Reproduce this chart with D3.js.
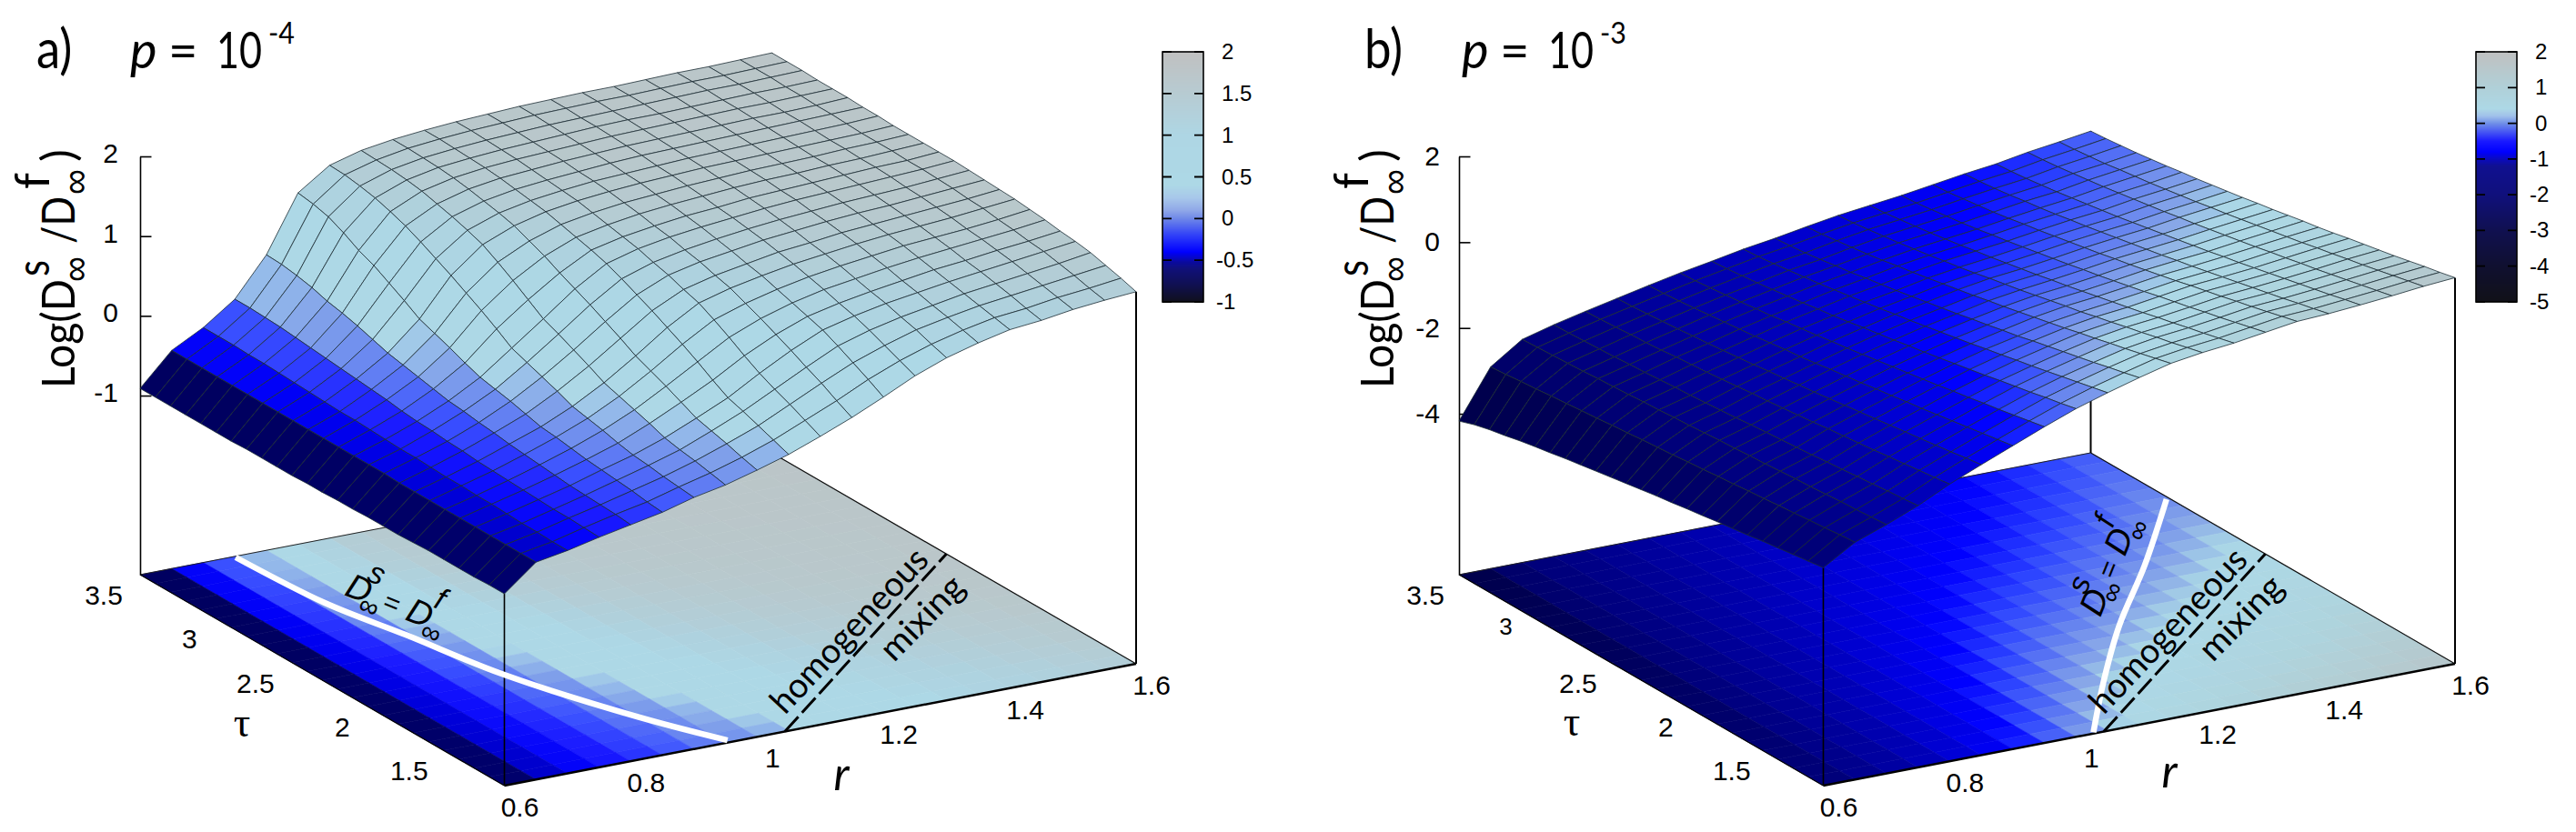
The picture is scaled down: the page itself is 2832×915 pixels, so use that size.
<!DOCTYPE html>
<html><head><meta charset="utf-8">
<script src="https://cdn.jsdelivr.net/npm/d3@7"></script>
<style>html,body{margin:0;padding:0;background:#fff}svg{display:block}text{fill:#000}</style>
</head><body><svg id="c" width="2832" height="915"></svg>
<script>
const rValues = [0.6,0.65,0.7,0.75,0.8,0.85,0.9,0.95,1,1.05,1.1,1.15,1.2,1.25,1.3,1.35,1.4,1.45,1.5,1.55,1.6];
const tauValues = [3.5,3.4,3.3,3.2,3.1,3,2.9,2.8,2.7,2.6,2.5,2.4,2.3,2.2,2.1,2,1.9,1.8,1.7,1.6,1.5,1.4,1.3,1.2,1.1];

// panel a: one row per tau, one value per r
const zA = [
[-.91,-.51,-.30,-.02,.46,1.16,1.43,1.54,1.60,1.64,1.67,1.69,1.71,1.72,1.73,1.73,1.74,1.75,1.75,1.76,1.77],
[-.91,-.51,-.30,-.02,.45,1.13,1.42,1.53,1.60,1.64,1.67,1.69,1.71,1.72,1.73,1.73,1.74,1.75,1.75,1.76,1.77],
[-.91,-.51,-.30,-.03,.42,1.08,1.39,1.52,1.59,1.63,1.66,1.68,1.70,1.71,1.72,1.73,1.74,1.75,1.75,1.76,1.77],
[-.91,-.51,-.31,-.04,.38,.99,1.35,1.50,1.58,1.62,1.65,1.67,1.69,1.71,1.72,1.72,1.73,1.74,1.75,1.75,1.76],
[-.91,-.51,-.31,-.06,.32,.88,1.29,1.47,1.56,1.61,1.64,1.66,1.68,1.70,1.71,1.72,1.73,1.74,1.74,1.75,1.76],
[-.91,-.51,-.32,-.08,.28,.80,1.22,1.42,1.53,1.59,1.62,1.65,1.67,1.69,1.70,1.71,1.72,1.73,1.73,1.74,1.76],
[-.91,-.51,-.33,-.10,.23,.69,1.13,1.37,1.49,1.56,1.60,1.63,1.66,1.68,1.69,1.70,1.71,1.72,1.73,1.74,1.75],
[-.90,-.51,-.34,-.12,.17,.58,1.03,1.31,1.45,1.53,1.58,1.62,1.64,1.66,1.68,1.69,1.70,1.71,1.72,1.73,1.75],
[-.90,-.51,-.35,-.14,.11,.46,.93,1.24,1.40,1.50,1.56,1.60,1.63,1.65,1.67,1.68,1.69,1.70,1.71,1.72,1.74],
[-.90,-.51,-.36,-.16,.07,.39,.82,1.13,1.32,1.45,1.52,1.57,1.60,1.63,1.65,1.67,1.68,1.69,1.71,1.72,1.74],
[-.90,-.51,-.36,-.18,.03,.32,.71,1.01,1.24,1.40,1.48,1.54,1.58,1.61,1.64,1.66,1.67,1.69,1.70,1.72,1.74],
[-.89,-.51,-.37,-.21,-.01,.24,.59,.88,1.14,1.35,1.44,1.50,1.55,1.58,1.62,1.64,1.66,1.68,1.70,1.71,1.74],
[-.89,-.51,-.38,-.23,-.05,.17,.46,.75,1.05,1.29,1.40,1.47,1.52,1.56,1.60,1.63,1.65,1.67,1.69,1.71,1.74],
[-.88,-.51,-.39,-.24,-.07,.13,.39,.67,.96,1.21,1.34,1.42,1.48,1.53,1.57,1.60,1.63,1.65,1.67,1.70,1.73],
[-.88,-.51,-.39,-.26,-.10,.09,.32,.58,.86,1.12,1.29,1.38,1.44,1.50,1.54,1.58,1.61,1.63,1.66,1.69,1.72],
[-.87,-.52,-.40,-.27,-.12,.04,.25,.49,.76,1.03,1.22,1.32,1.39,1.46,1.50,1.55,1.58,1.61,1.64,1.67,1.71],
[-.87,-.52,-.41,-.29,-.15,-.01,.17,.39,.65,.93,1.16,1.27,1.35,1.42,1.47,1.52,1.56,1.59,1.62,1.66,1.70],
[-.87,-.52,-.41,-.30,-.17,-.03,.13,.33,.57,.83,1.06,1.19,1.29,1.37,1.43,1.48,1.53,1.56,1.59,1.63,1.68],
[-.86,-.52,-.42,-.31,-.19,-.06,.09,.27,.49,.72,.95,1.11,1.23,1.32,1.38,1.44,1.49,1.53,1.57,1.61,1.66],
[-.85,-.52,-.42,-.32,-.21,-.09,.04,.21,.40,.60,.83,1.02,1.17,1.26,1.33,1.39,1.45,1.49,1.54,1.58,1.63],
[-.85,-.52,-.43,-.33,-.23,-.11,0,.14,.31,.49,.72,.93,1.11,1.21,1.29,1.35,1.41,1.46,1.51,1.56,1.61],
[-.85,-.52,-.44,-.34,-.24,-.13,-.02,.10,.26,.43,.63,.83,1.02,1.14,1.23,1.30,1.37,1.42,1.47,1.52,1.58],
[-.85,-.52,-.44,-.34,-.25,-.15,-.05,.07,.21,.36,.55,.74,.92,1.06,1.18,1.26,1.33,1.38,1.43,1.48,1.53],
[-.84,-.52,-.45,-.35,-.26,-.18,-.07,.03,.15,.29,.46,.63,.82,.98,1.11,1.21,1.29,1.33,1.39,1.43,1.48],
[-.84,-.52,-.45,-.36,-.28,-.20,-.09,-.01,.10,.22,.37,.53,.71,.90,1.05,1.16,1.25,1.29,1.35,1.39,1.42]
];

// panel b: one column per r, one value per tau
const zBbyR = [
[-4.17,-4.05,-3.96,-3.89,-3.81,-3.74,-3.68,-3.61,-3.55,-3.49,-3.43,-3.37,-3.31,-3.25,-3.20,-3.14,-3.09,-3.03,-2.98,-2.93,-2.87,-2.82,-2.77,-2.72,-2.67],
[-3.05,-3.02,-2.98,-2.95,-2.91,-2.88,-2.84,-2.81,-2.77,-2.74,-2.70,-2.67,-2.64,-2.60,-2.57,-2.53,-2.50,-2.46,-2.43,-2.39,-2.36,-2.32,-2.29,-2.25,-2.22],
[-2.55,-2.53,-2.51,-2.49,-2.47,-2.44,-2.42,-2.40,-2.37,-2.35,-2.32,-2.30,-2.27,-2.24,-2.22,-2.19,-2.17,-2.14,-2.11,-2.09,-2.06,-2.03,-2.01,-1.98,-1.95],
[-2.35,-2.34,-2.32,-2.30,-2.28,-2.25,-2.23,-2.20,-2.17,-2.15,-2.12,-2.09,-2.06,-2.02,-1.99,-1.96,-1.93,-1.90,-1.86,-1.83,-1.79,-1.76,-1.72,-1.69,-1.65],
[-2.18,-2.16,-2.14,-2.11,-2.09,-2.06,-2.02,-1.99,-1.96,-1.92,-1.88,-1.84,-1.81,-1.77,-1.73,-1.69,-1.64,-1.60,-1.56,-1.52,-1.47,-1.43,-1.38,-1.34,-1.29],
[-2.02,-2.00,-1.97,-1.94,-1.91,-1.87,-1.84,-1.80,-1.76,-1.72,-1.67,-1.63,-1.58,-1.54,-1.49,-1.44,-1.39,-1.34,-1.29,-1.24,-1.19,-1.14,-1.09,-1.03,-.98],
[-1.86,-1.84,-1.81,-1.77,-1.73,-1.69,-1.65,-1.61,-1.56,-1.51,-1.47,-1.42,-1.36,-1.31,-1.26,-1.20,-1.15,-1.09,-1.04,-.98,-.92,-.86,-.80,-.74,-.68],
[-1.71,-1.69,-1.65,-1.61,-1.57,-1.52,-1.48,-1.42,-1.37,-1.32,-1.26,-1.21,-1.15,-1.09,-1.03,-.97,-.91,-.85,-.78,-.72,-.65,-.59,-.52,-.45,-.38],
[-1.58,-1.55,-1.51,-1.47,-1.42,-1.37,-1.32,-1.26,-1.21,-1.15,-1.08,-1.02,-.96,-.89,-.83,-.76,-.69,-.62,-.55,-.47,-.40,-.33,-.25,-.18,-.10],
[-1.44,-1.41,-1.37,-1.32,-1.27,-1.22,-1.16,-1.10,-1.04,-.98,-.91,-.85,-.78,-.71,-.64,-.57,-.49,-.42,-.34,-.27,-.19,-.11,-.03,.05,.13],
[-1.33,-1.30,-1.26,-1.21,-1.15,-1.10,-1.03,-.97,-.91,-.84,-.77,-.70,-.63,-.55,-.48,-.40,-.33,-.24,-.16,-.08,0,.08,.17,.25,.34],
[-1.20,-1.17,-1.12,-1.07,-1.02,-.96,-.89,-.83,-.76,-.69,-.62,-.55,-.47,-.40,-.32,-.24,-.16,-.08,.01,.09,.18,.26,.35,.44,.53],
[-1.08,-1.05,-1.00,-.95,-.90,-.84,-.78,-.71,-.65,-.58,-.50,-.43,-.36,-.28,-.20,-.12,-.05,.04,.12,.21,.29,.38,.46,.55,.64],
[-.99,-.96,-.91,-.86,-.81,-.75,-.69,-.62,-.56,-.49,-.42,-.35,-.27,-.20,-.12,-.04,.04,.12,.20,.29,.37,.46,.54,.63,.72],
[-.90,-.87,-.82,-.77,-.72,-.66,-.59,-.53,-.46,-.39,-.32,-.25,-.17,-.10,-.02,.06,.14,.23,.31,.39,.48,.56,.65,.74,.83],
[-.79,-.76,-.71,-.66,-.61,-.55,-.48,-.42,-.35,-.28,-.21,-.14,-.06,.01,.09,.17,.25,.34,.42,.50,.59,.67,.76,.85,.94],
[-.68,-.65,-.61,-.56,-.50,-.45,-.39,-.32,-.26,-.19,-.12,-.05,.02,.09,.17,.24,.32,.40,.48,.56,.64,.72,.81,.89,.98],
[-.59,-.56,-.52,-.47,-.42,-.36,-.30,-.24,-.18,-.11,-.04,.03,.10,.17,.24,.32,.39,.47,.55,.63,.71,.79,.87,.96,1.04],
[-.46,-.43,-.39,-.34,-.29,-.24,-.18,-.12,-.06,0,.07,.13,.20,.27,.34,.41,.49,.56,.64,.71,.79,.87,.95,1.03,1.11],
[-.36,-.33,-.29,-.25,-.19,-.14,-.09,-.03,.03,.09,.16,.22,.29,.36,.43,.50,.57,.65,.72,.80,.87,.95,1.03,1.11,1.19],
[-.25,-.22,-.18,-.14,-.09,-.04,.02,.07,.13,.19,.25,.32,.38,.45,.52,.58,.65,.73,.80,.87,.94,1.02,1.10,1.17,1.25]
];
const zB = d3.transpose(zBbyR);

// z = 0 contours and the homogeneous-mixing line, as [r, tau]
const equalLineA = [[.749,3.49],[.7615,2.955],[.792,2.55],[.827,2.05],[.899,1.47],[.958,1.12]];
const equalLineB = [[1.03,1.11],[1.15,1.54],[1.28,1.98],[1.433,2.45],[1.595,2.98]];
const mixingLine = [[1.044,1.1],[1.6,2.35]];

const zTicksA = [-1,0,1,2], zTicksB = [-4,-2,0,2];
const rTicks = [0.6,0.8,1,1.2,1.4,1.6], tauTicks = [3.5,3,2.5,2,1.5];
const barTicksA = [-1,-0.5,0,0.5,1,1.5,2], barTicksB = [-5,-4,-3,-2,-1,0,1,2];

const surfStopsA = [[-1,"#00001e"],[-.71,"#000060"],[-.55,"#0000a0"],[-.42,"#0000f8"],[-.3,"#1a1aff"],[-.16,"#3a50ff"],[0,"#6a88f0"],[.12,"#80a0ea"],[.22,"#96bcea"],[.3,"#add8e6"],[1,"#add8e6"],[1.3,"#aed2df"],[1.65,"#b8c8cc"],[2,"#c0c0c0"]];
const surfStopsB = [[-5,"#000018"],[-4.2,"#000038"],[-3,"#000060"],[-2.3,"#000082"],[-1.6,"#0000b0"],[-1,"#0000e4"],[-.7,"#0000ff"],[-.4,"#2e46ff"],[-.1,"#6a88ee"],[.05,"#88a8e8"],[.2,"#a8d4e6"],[.3,"#add8e6"],[.7,"#aed4de"],[1.2,"#b6c8cc"],[2,"#c0c0c0"]];
const barStopsA = [[-1,"#10101c"],[-.8,"#101050"],[-.6,"#10107a"],[-.52,"#0a0aa0"],[-.4,"#0000ff"],[-.2,"#3040f8"],[0,"#6f88e8"],[.1,"#90a8e8"],[.25,"#a8c8ea"],[.4,"#add8e6"],[1,"#aed6e4"],[2,"#c0c0c0"]];
const barStopsB = [[-5,"#111118"],[-4,"#101030"],[-3,"#101050"],[-2,"#10107c"],[-1.2,"#101090"],[-1,"#0a0ac0"],[-.8,"#0000ff"],[-.5,"#1a1aff"],[0,"#7090e8"],[.2,"#a0c0ea"],[.4,"#add8e6"],[1,"#b0d0d8"],[2,"#c0c0c0"]];
const colorOf = s => d3.scaleLinear().domain(s.map(d=>d[0])).range(s.map(d=>d[1])).clamp(true);

const svg = d3.select("#c");
const SANS = "'Liberation Sans',Arial,sans-serif", MYR = "Lato,'Noto Sans',sans-serif";

function panel(cfg){
  const g = svg.append("g").attr("transform",`translate(${cfg.dx},0)`);
  const L = {x:154,y:632}, ER = {x:694.5,y:-134}, ET = {x:400.5,y:232}, H = 460;
  const ur = d3.scaleLinear().domain([0.6,1.6]).range([0,1]);
  const ut = d3.scaleLinear().domain([3.5,1.1]).range([0,1]);
  const uz = d3.scaleLinear().domain([cfg.zFloor,2]).range([0,H]);
  const fx = (r,t)=>L.x+ur(r)*ER.x+ut(t)*ET.x;
  const fy = (r,t)=>L.y+ur(r)*ER.y+ut(t)*ET.y;
  const px = (r,t,z)=>[fx(r,t), fy(r,t)-(z==null?0:uz(z))];
  const col = colorOf(cfg.surf);

  const cells = [];
  for(let i=rValues.length-2;i>=0;i--) for(let j=0;j<tauValues.length-1;j++){
    const m = (cfg.z[j][i]+cfg.z[j][i+1]+cfg.z[j+1][i]+cfg.z[j+1][i+1])/4;
    cells.push({i,j,m});
  }
  const floorPoly = d=>[[d.i,d.j],[d.i+1,d.j],[d.i+1,d.j+1],[d.i,d.j+1]].map(([a,b])=>px(rValues[a],tauValues[b]).join(",")).join(" ");
  const surfPoly = d=>[[d.i,d.j],[d.i+1,d.j],[d.i+1,d.j+1],[d.i,d.j+1]].map(([a,b])=>px(rValues[a],tauValues[b],cfg.z[b][a]).join(",")).join(" ");

  // floor map
  g.append("g").selectAll("polygon").data(cells).join("polygon")
    .attr("points",floorPoly).attr("fill",d=>col(d.m)).attr("stroke",d=>col(d.m)).attr("stroke-width",.6);

  // floor outline
  const edge = (a,b,w,c)=>g.append("line").attr("x1",a[0]).attr("y1",a[1]).attr("x2",b[0]).attr("y2",b[1]).attr("stroke",c||"#000").attr("stroke-width",w);
  edge(px(.6,3.5),px(1.6,3.5),1,"#222");
  edge(px(1.6,3.5),px(1.6,1.1),1.2,"#111");
  edge(px(.6,1.1),px(1.6,1.1),2.5);
  edge(px(.6,3.5),px(.6,1.1),1.2);

  // verticals
  edge(px(1.6,3.5),px(1.6,3.5,cfg.z[0][20]),2,"#000");
  edge(px(.6,1.1),px(.6,1.1,cfg.z[24][0]),1.6);
  edge(px(1.6,1.1),px(1.6,1.1,cfg.z[24][20]),2);

  // z axis
  const zy = d3.scaleLinear().domain([cfg.zFloor,2]).range([L.y,L.y-H]);
  const ax = g.append("g").attr("transform",`translate(${L.x},0)`)
    .call(d3.axisRight(zy).tickValues(cfg.zTicks).tickSize(12.5).tickSizeOuter(0).tickFormat(""));
  ax.selectAll("path,line").attr("stroke","#000").attr("stroke-width",1.6);
  g.selectAll(null).data(cfg.zTicks).join("text").attr("x",cfg.zLabelX).attr("y",d=>zy(d)+cfg.zLabelDy)
    .attr("text-anchor","end").attr("font-family",SANS).attr("font-size",30).text(d=>d);

  // floor tick labels
  g.selectAll(null).data(rTicks).join("text").attr("x",d=>fx(d,1.1)+17).attr("y",d=>fy(d,1.1)+34)
    .attr("text-anchor","middle").attr("font-family",SANS).attr("font-size",30).text(d=>d);
  g.selectAll(null).data(tauTicks).join("text").attr("x",(d,k)=>fx(.6,d)+cfg.tauOff[k][0]).attr("y",(d,k)=>fy(.6,d)+cfg.tauOff[k][1]+10)
    .attr("text-anchor","middle").attr("font-family",SANS).attr("font-size",(d,k)=>cfg.tauSize[k]).text(d=>d);
  g.append("text").attr("x",cfg.tauLabel[0]).attr("y",cfg.tauLabel[1]+12).attr("text-anchor","middle")
    .attr("font-family","'Liberation Serif',serif").attr("font-size",46).text("τ");
  g.append("text").attr("x",cfg.rLabel[0]).attr("y",cfg.rLabel[1]+14).attr("text-anchor","middle")
    .attr("font-family",MYR).attr("font-style","italic").attr("font-size",50).text("r");

  // curves on floor
  const line = d3.line().x(d=>fx(d[0],d[1])).y(d=>fy(d[0],d[1]));
  g.append("path").attr("d",line.curve(d3.curveCatmullRom)(cfg.equal)).attr("fill","none").attr("stroke","#fff").attr("stroke-width",6.5);
  g.append("path").attr("d",line.curve(d3.curveLinear)(mixingLine)).attr("fill","none").attr("stroke","#000").attr("stroke-width",3).attr("stroke-dasharray","22 6");

  // floor texts
  const rotText=(t,x,y,a,size,len)=>g.append("text").attr("transform",`translate(${x},${y}) rotate(${a})`)
    .attr("text-anchor","middle").attr("dominant-baseline","central").attr("font-family",MYR).attr("font-size",size)
    .attr("textLength",len).attr("lengthAdjust","spacingAndGlyphs").text(t);
  rotText("homogeneous",932,692,-46.7,38,233);
  rotText("mixing",1012,678,-45.5,38,114);
  const eq = g.append("g").attr("transform",`translate(${cfg.eq[0]},${cfg.eq[1]}) rotate(${cfg.eq[2]})`)
    .attr("font-family",cfg.eqFont).attr("font-style","italic");
  [["D",0,0,38],["∞",17,14,30],["s",12,-23,34],["=",39,1,30],["D",72,0,38],["∞",91,15,30],["f",87,-23,34]].forEach(d=>{
    eq.append("text").attr("x",d[1]).attr("y",d[2]).attr("font-size",d[3]).attr("text-anchor","middle").attr("dominant-baseline","central").text(d[0]);
  });

  // surface mesh
  g.append("g").selectAll("polygon").data(cells).join("polygon")
    .attr("points",surfPoly).attr("fill",d=>col(d.m)).attr("stroke","#1c2c34").attr("stroke-width",.8).attr("stroke-linejoin","round");

  // colour bar
  const by = d3.scaleLinear().domain([cfg.barTicks[0],2]).range([332,57]);
  const bc = colorOf(cfg.bar);
  const bar = g.append("g").attr("transform",`translate(${cfg.barX},0)`);
  bar.selectAll("rect").data(d3.range(57,332)).join("rect").attr("x",0).attr("width",45).attr("y",d=>d).attr("height",1.2).attr("fill",d=>bc(by.invert(d+.5)));
  bar.append("rect").attr("x",0).attr("y",57).attr("width",45).attr("height",275).attr("fill","none").attr("stroke","#000").attr("stroke-width",1.6);
  bar.selectAll(null).data(cfg.barTicks).join("path").attr("d",d=>`M0,${by(d)}h10M45,${by(d)}h-10`).attr("stroke","#000").attr("stroke-width",1.8);
  bar.selectAll(null).data(cfg.barTicks).join("text").attr("x",d=>d<0?59:65).attr("y",d=>by(d)+8)
    .attr("font-family",SANS).attr("font-size",24).text(d=>d);

  // panel title
  const txt=(t,x,y,size,sx,style)=>{const s=g.append("text").attr("transform",`translate(${x},${y}) scale(${sx},1)`).attr("font-family",MYR).attr("font-size",size).text(t);
    if(style)s.attr("font-style",style); return s;};
  txt(cfg.letter,40+cfg.titleShift[0],75,60,.88);
  txt("p",143+cfg.titleShift[1],75,56,1,"italic");
  txt("=",185+cfg.titleShift[1],75,56,1);
  txt("10",238+cfg.titleShift[1],75,56,.77);
  txt(cfg.exp,295+cfg.titleShift[1],48,32,.95);

  // z label (rotated)
  const rt=(t,x,y,size,len,fam)=>{const s=g.append("text").attr("transform",`translate(${x},${y}) rotate(-90)`).attr("font-family",fam||MYR).attr("font-size",size).text(t);
    if(len)s.attr("textLength",len).attr("lengthAdjust","spacingAndGlyphs");};
  rt("Log(D",82,427,50,120);
  rt("∞",97,310,42,28,SANS);
  rt("s",54,304,50,18);
  rt("/D",82,268,50,52);
  rt("∞",97,214,42,28,SANS);
  rt("f",54,208,52,18);
  rt(")",82,178,50,14);
}

panel({dx:0,z:zA,zFloor:-3.246,zTicks:zTicksA,zLabelX:130,zLabelDy:7,surf:surfStopsA,bar:barStopsA,barTicks:barTicksA,barX:1278,
  equal:equalLineA,tauOff:[[-40,23],[-29,23],[-40,23],[-28,23],[-38,23]],tauSize:[30,30,30,30,30],tauLabel:[266,798],rLabel:[925,855],
  eq:[395,647,22],eqFont:SANS,letter:"a)",exp:"-4",titleShift:[0,0]});
panel({dx:1450,z:zB,zFloor:-7.75,zTicks:zTicksB,zLabelX:133,zLabelDy:10,surf:surfStopsB,bar:barStopsB,barTicks:barTicksB,barX:1272,
  equal:equalLineB,tauOff:[[-37,23],[-32,8],[-36,23],[-23,23],[-34,23]],tauSize:[30,26,30,30,30],tauLabel:[278,797],rLabel:[935,852],
  eq:[852,662,-68],eqFont:SANS,letter:"b)",exp:"-3",titleShift:[10,14]});
</script></body></html>
